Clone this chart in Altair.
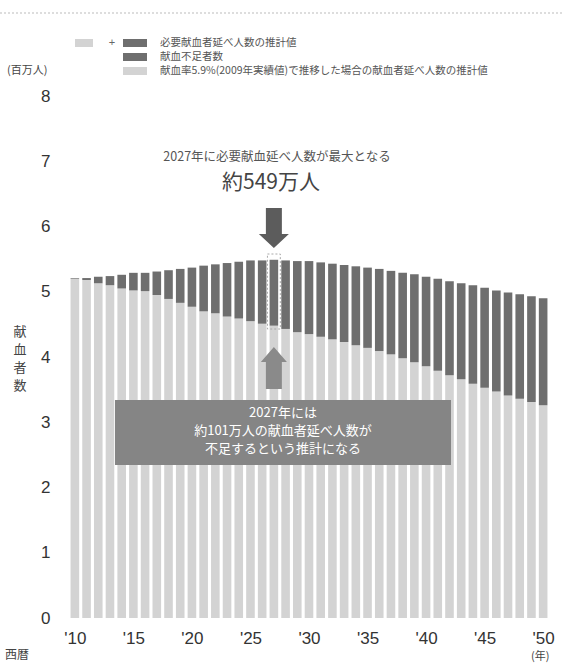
import altair as alt
import pandas as pd

# ---- data (millions of people) ----
years = list(range(2010, 2051))
total_required = [5.21, 5.21, 5.23, 5.24, 5.26, 5.29, 5.29, 5.31, 5.33, 5.35,
                  5.37, 5.40, 5.42, 5.44, 5.46, 5.48, 5.48, 5.49, 5.48, 5.47,
                  5.47, 5.45, 5.43, 5.41, 5.39, 5.37, 5.35, 5.32, 5.29, 5.27,
                  5.23, 5.20, 5.16, 5.13, 5.10, 5.06, 5.02, 4.99, 4.96, 4.93,
                  4.90]
constant_rate = [5.20, 5.18, 5.13, 5.10, 5.05, 5.02, 5.01, 4.95, 4.89, 4.83,
                 4.77, 4.70, 4.67, 4.62, 4.59, 4.55, 4.51, 4.48, 4.43, 4.38,
                 4.35, 4.31, 4.27, 4.23, 4.18, 4.14, 4.09, 4.04, 3.98, 3.92,
                 3.86, 3.79, 3.72, 3.66, 3.59, 3.53, 3.47, 3.41, 3.36, 3.31,
                 3.26]
x_ticks = list(range(2010, 2051, 5))
y_ticks = list(range(0, 9))

legend_labels = ["必要献血者延べ人数の推計値", "献血不足者数",
                 "献血率5.9%(2009年実績値)で推移した場合の献血者延べ人数の推計値"]
peak_year = 2027
peak_text = ["2027年に必要献血延べ人数が最大となる", "約549万人"]
box_text = ["2027年には", "約101万人の献血者延べ人数が", "不足するという推計になる"]

df = pd.DataFrame({"year": years, "total": total_required, "light": constant_rate})

LIGHT = "#d3d3d3"
DARK = "#6e6e6e"
JP = "Noto Sans CJK JP"
NUM = "Liberation Sans Narrow, Liberation Sans, Arial"

W, H = 490, 522

xenc = alt.X("year:Q", scale=alt.Scale(domain=[2009.5, 2050.5], nice=False, zero=False),
             axis=alt.Axis(values=x_ticks, labelExpr="\"'\" + slice(toString(datum.value), 2)",
                           domain=False, ticks=False, grid=False, labelPadding=12,
                           labelFont=NUM, labelFontSize=17, labelColor="#333",
                           labelFlush=False),
             title=None)

base = alt.Chart(df)
light_bars = base.mark_bar(size=8.6, color=LIGHT).encode(
    x=xenc,
    y=alt.Y("light:Q", scale=alt.Scale(domain=[0, 8], nice=False),
            axis=alt.Axis(values=y_ticks, format="d", domain=False, ticks=False, grid=False,
                          labelPadding=14, labelFont=NUM, labelFontSize=17,
                          labelColor="#333"),
            title=None),
)
dark_bars = base.mark_bar(size=8.6, color=DARK).encode(
    x="year:Q", y="total:Q", y2="light:Q")

one = alt.Chart(pd.DataFrame({"k": [0]}))

# top dotted rule
top_rule = one.mark_rule(color="#bbbbbb", strokeDash=[2, 2], strokeWidth=1).encode(
    x=alt.value(-64), x2=alt.value(500), y=alt.value(-83))

# legend
sw_light1 = one.mark_rect(color=LIGHT).encode(
    x=alt.value(11), x2=alt.value(29), y=alt.value(-57), y2=alt.value(-49))
plus = one.mark_text(text="+", fontSize=11, color="#666", font=NUM).encode(
    x=alt.value(48), y=alt.value(-53))
sw_dark1 = one.mark_rect(color=DARK).encode(
    x=alt.value(59), x2=alt.value(83), y=alt.value(-57), y2=alt.value(-49))
sw_dark2 = one.mark_rect(color=DARK).encode(
    x=alt.value(59), x2=alt.value(83), y=alt.value(-43), y2=alt.value(-35))
sw_light3 = one.mark_rect(color=LIGHT).encode(
    x=alt.value(59), x2=alt.value(83), y=alt.value(-29), y2=alt.value(-21))
leg_rows = [-53, -39, -25]
leg_texts = [
    one.mark_text(text=lbl, align="left", baseline="middle", font=JP,
                  fontSize=10.5, color="#555").encode(x=alt.value(96), y=alt.value(yy))
    for lbl, yy in zip(legend_labels, leg_rows)
]

unit = one.mark_text(text="(百万人)", align="left", baseline="middle", font=JP,
                     fontSize=11, color="#444").encode(x=alt.value(-57), y=alt.value(-25))

ytitle = one.mark_text(text=["献", "血", "者", "数"], align="center", baseline="middle",
                       font=JP, fontSize=13, lineHeight=18, color="#444").encode(
    x=alt.value(-44), y=alt.value(236))
seireki = one.mark_text(text="西暦", align="left", baseline="middle", font=JP,
                        fontSize=12, color="#444").encode(x=alt.value(-59), y=alt.value(559))
nen = one.mark_text(text="(年)", align="left", baseline="middle", font=JP,
                    fontSize=11, color="#444").encode(x=alt.value(467), y=alt.value(561))

# peak annotation
peak1 = one.mark_text(text=peak_text[0], align="center", baseline="middle", font=JP,
                      fontSize=12.5, color="#555").encode(x=alt.value(213), y=alt.value(61))
peak2 = one.mark_text(text=peak_text[1], align="center", baseline="middle", font=JP,
                      fontSize=21, color="#444").encode(x=alt.value(207), y=alt.value(87))

path_down = "M-0.533,-1.333L0.533,-1.333L0.533,0.4L1,0.4L0,1.333L-1,0.4L-0.533,0.4Z"
path_up = "M0,-1.615L1,-0.46L0.615,-0.46L0.615,1.615L-0.615,1.615L-0.615,-0.46L-1,-0.46Z"
arrow_down = one.mark_point(shape=path_down, size=900, filled=True, fill="#5c5c5c",
                            strokeOpacity=0, opacity=1).encode(
    x=alt.datum(peak_year), y=alt.value(132))
arrow_up = one.mark_point(shape=path_up, size=676, filled=True, fill="#8a8a8a",
                          strokeOpacity=0, opacity=1).encode(
    x=alt.datum(peak_year), y=alt.value(272))

outline = one.mark_rect(filled=False, stroke="#aaaaaa", strokeDash=[2, 2],
                        strokeWidth=1).encode(
    x=alt.datum(peak_year - 0.55), x2=alt.datum(peak_year + 0.55),
    y=alt.value(158), y2=alt.value(233))

box = one.mark_rect(color="#858585").encode(
    x=alt.value(51), x2=alt.value(387), y=alt.value(304), y2=alt.value(369))
box_t = one.mark_text(text=box_text, align="center", baseline="middle", font=JP,
                      fontSize=13, lineHeight=18, color="white").encode(
    x=alt.value(219), y=alt.value(317))

chart = alt.layer(
    light_bars, dark_bars, outline, top_rule, sw_light1, plus, sw_dark1, sw_dark2,
    sw_light3, *leg_texts, unit, ytitle, seireki, nen, peak1, peak2, arrow_down,
    arrow_up, box, box_t
).properties(
    width=W, height=H,
    autosize=alt.AutoSizeParams(type="none"),
    padding={"left": 64, "top": 96, "right": 10, "bottom": 49},
    background="white",
).configure_view(stroke=None)

chart.save("out.html", embed_options={"renderer": "svg", "actions": False})
